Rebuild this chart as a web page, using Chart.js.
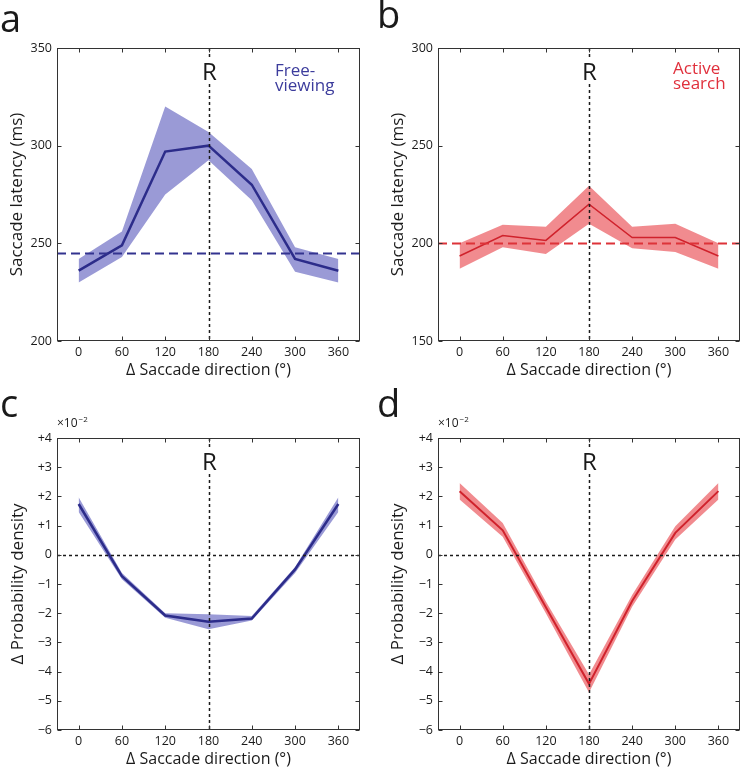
<!DOCTYPE html>
<html><head><meta charset="utf-8">
<script src="https://cdn.jsdelivr.net/npm/chart.js@4/dist/chart.umd.min.js"></script>
<style>
html,body{margin:0;padding:0;background:#fff;}
#wrap{position:relative;width:742px;height:767px;overflow:hidden;background:#fff;}
canvas{position:absolute;}
</style></head><body>
<div id="wrap">
<canvas id="ca" width="371" height="383" style="left:0;top:0"></canvas>
<canvas id="cb" width="371" height="383" style="left:371px;top:0"></canvas>
<canvas id="cc" width="371" height="384" style="left:0;top:383px"></canvas>
<canvas id="cd" width="371" height="384" style="left:371px;top:383px"></canvas>
</div>
<script>
// ---- data ----
const directions = [0, 60, 120, 180, 240, 300, 360];
const xTickValues = [0, 60, 120, 180, 240, 300, 360];
const referenceDirection = 180;

const freeLatencyMean  = [236, 249, 297, 300, 280, 242, 236];
const freeLatencyUpper = [242, 256, 320, 307, 288, 248, 242];
const freeLatencyLower = [230, 243, 275, 292.5, 272, 235.5, 230];
const freeLatencyBaseline = 245;
const freeLatencyTicks = [200, 250, 300, 350];

const activeLatencyMean  = [193.5, 204, 201.5, 220, 203, 203, 193.5];
const activeLatencyUpper = [200, 209.5, 208.5, 229.5, 208.5, 210, 200];
const activeLatencyLower = [187, 198, 194.5, 210, 197.5, 195.5, 187];
const activeLatencyBaseline = 200;
const activeLatencyTicks = [150, 200, 250, 300];

const freeDensityMean  = [1.74, -0.73, -2.08, -2.29, -2.18, -0.50, 1.74];
const freeDensityUpper = [1.97, -0.62, -2.00, -2.04, -2.10, -0.42, 1.97];
const freeDensityLower = [1.47, -0.84, -2.16, -2.55, -2.25, -0.62, 1.47];

const activeDensityMean  = [2.18, 0.84, -1.80, -4.42, -1.58, 0.75, 2.18];
const activeDensityUpper = [2.46, 1.09, -1.60, -4.10, -1.38, 0.98, 2.46];
const activeDensityLower = [1.89, 0.62, -2.00, -4.72, -1.78, 0.52, 1.89];
const densityBaseline = 0;
const densityTicks = [-6, -5, -4, -3, -2, -1, 0, 1, 2, 3, 4];

const xTitle = 'Δ Saccade direction (°)';
const latencyTitle = 'Saccade latency (ms)';
const densityTitle = 'Δ Probability density';

const FONT = '"Open Sans", "Noto Sans", sans-serif';
const INK = '#1a1a1a';

function decor(p) {
  return {
    id: 'decor',
    afterDatasetsDraw(chart) {
      const {ctx, chartArea: a, scales: {x, y}} = chart;
      ctx.save();
      ctx.beginPath(); ctx.rect(a.left, a.top, a.right - a.left, a.bottom - a.top); ctx.clip();
      const yb = Math.round(y.getPixelForValue(p.baseline)) + 0.5;
      ctx.strokeStyle = p.baseColor; ctx.lineWidth = p.baseWidth; ctx.setLineDash(p.baseDash);
      ctx.beginPath(); ctx.moveTo(a.left, yb); ctx.lineTo(a.right, yb); ctx.stroke();
      const xr = Math.round(x.getPixelForValue(referenceDirection)) + 0.5;
      ctx.strokeStyle = INK; ctx.lineWidth = 1.5; ctx.setLineDash([3, 3]);
      ctx.beginPath(); ctx.moveTo(xr, a.top); ctx.lineTo(xr, a.bottom); ctx.stroke();
      ctx.setLineDash([]);
      ctx.font = '24px ' + FONT;
      ctx.textAlign = 'center'; ctx.textBaseline = 'middle';
      const ry = a.top + 24;
      ctx.fillStyle = '#fff';
      ctx.fillRect(xr - 9, ry - 12, 18, 24);
      ctx.fillStyle = INK;
      ctx.fillText('R', xr, ry + 1);
      ctx.restore();
    },
    afterDraw(chart) {
      const {ctx, chartArea: a, scales: {x, y}} = chart;
      ctx.save();
      ctx.strokeStyle = '#333'; ctx.lineWidth = 1;
      const L = Math.round(a.left) + 0.5, R = Math.round(a.right) - 0.5;
      const T = Math.round(a.top) + 0.5, B = Math.round(a.bottom) - 0.5;
      ctx.strokeRect(L, T, R - L, B - T);
      ctx.beginPath();
      const tl = 4;
      xTickValues.forEach(v => {
        const px = Math.round(x.getPixelForValue(v)) + 0.5;
        ctx.moveTo(px, B); ctx.lineTo(px, B - tl);
        ctx.moveTo(px, T); ctx.lineTo(px, T + tl);
      });
      p.yTicks.forEach(v => {
        const py = Math.round(y.getPixelForValue(v)) + 0.5;
        ctx.moveTo(L, py); ctx.lineTo(L + tl, py);
        ctx.moveTo(R, py); ctx.lineTo(R - tl, py);
      });
      ctx.stroke();
      ctx.fillStyle = INK;
      ctx.font = '16px ' + FONT;
      ctx.textAlign = 'center'; ctx.textBaseline = 'middle';
      ctx.fillText(xTitle, (a.left + a.right) / 2, a.bottom + 29);
      ctx.font = '17px ' + FONT;
      ctx.save();
      ctx.translate(p.yTitleX, (a.top + a.bottom) / 2);
      ctx.rotate(-Math.PI / 2);
      ctx.fillText(p.yTitle, 0, 0);
      ctx.restore();
      ctx.font = '38px ' + FONT;
      ctx.textAlign = 'left'; ctx.textBaseline = 'alphabetic';
      ctx.fillText(p.letter, p.letterX, p.letterY);
      if (p.legend) {
        ctx.font = '17px ' + FONT;
        ctx.fillStyle = p.legendColor;
        p.legend.forEach((t, i) => ctx.fillText(t, p.legendX, p.legendY + i * 15));
      }
      if (p.exponent) {
        ctx.fillStyle = INK;
        ctx.font = '12px ' + FONT;
        ctx.textBaseline = 'middle';
        const ex = a.left, ey = a.top - 14;
        ctx.fillText('×10', ex, ey);
        const w = ctx.measureText('×10').width;
        ctx.font = '8px ' + FONT;
        ctx.fillText('−2', ex + w + 1, ey - 4);
      }
      ctx.restore();
    }
  };
}

function makeChart(id, box, p) {
  const canvas = document.getElementById(id);
  const W = canvas.width, H = canvas.height;
  return new Chart(canvas, {
    type: 'line',
    data: {
      datasets: [
        {data: directions.map((d, i) => ({x: d, y: p.mean[i]})), borderColor: p.line, borderWidth: p.lw,
         pointRadius: 0, fill: false, tension: 0},
        {data: directions.map((d, i) => ({x: d, y: p.upper[i]})), borderWidth: 0, borderColor: 'rgba(0,0,0,0)',
         backgroundColor: p.band, pointRadius: 0, fill: '+1', tension: 0},
        {data: directions.map((d, i) => ({x: d, y: p.lower[i]})), borderWidth: 0, borderColor: 'rgba(0,0,0,0)',
         pointRadius: 0, fill: false, tension: 0}
      ]
    },
    options: {
      responsive: false, animation: false, devicePixelRatio: 1,
      layout: {padding: {left: 0, top: box.T, right: W - box.R, bottom: 0}},
      plugins: {legend: {display: false}, tooltip: {enabled: false}},
      scales: {
        x: {
          type: 'linear', min: -30, max: 390,
          afterBuildTicks: s => { s.ticks = xTickValues.map(v => ({value: v})); },
          afterFit: s => { s.height = H - box.B; },
          grid: {display: false, drawTicks: false}, border: {display: false},
          ticks: {padding: 4, font: {family: FONT, size: 12.5}, color: INK, maxRotation: 0, autoSkip: false}
        },
        y: {
          type: 'linear', min: p.ymin, max: p.ymax,
          afterBuildTicks: s => { s.ticks = p.yTicks.map(v => ({value: v})); },
          afterFit: s => { s.width = box.L; },
          grid: {display: false, drawTicks: false}, border: {display: false},
          ticks: {padding: 5, font: {family: FONT, size: 12.5}, color: INK, autoSkip: false,
                  callback: p.fmt || (v => String(v))}
        }
      }
    },
    plugins: [decor(p)]
  });
}

const densityFmt = v => v > 0 ? '+' + v : (v < 0 ? '−' + Math.abs(v) : '0');
const blueBand = 'rgba(120,120,200,0.75)', blueLine = '#2c2c8a';
const redBand = 'rgba(238,110,115,0.8)', redLine = '#d0222c';

makeChart('ca', {L: 57, T: 48, R: 360, B: 341}, {
  mean: freeLatencyMean, upper: freeLatencyUpper, lower: freeLatencyLower,
  ymin: 200, ymax: 350, yTicks: freeLatencyTicks,
  line: blueLine, lw: 2.5, band: blueBand,
  baseline: freeLatencyBaseline, baseColor: '#33338f', baseWidth: 2, baseDash: [9, 5],
  yTitle: latencyTitle, yTitleX: 17, letter: 'a', letterX: 0, letterY: 32,
  legend: ['Free-', 'viewing'], legendColor: '#3c3c9c', legendX: 275, legendY: 76
});
makeChart('cb', {L: 67, T: 48, R: 369, B: 341}, {
  mean: activeLatencyMean, upper: activeLatencyUpper, lower: activeLatencyLower,
  ymin: 150, ymax: 300, yTicks: activeLatencyTicks,
  line: redLine, lw: 1.5, band: redBand,
  baseline: activeLatencyBaseline, baseColor: '#dd3339', baseWidth: 2, baseDash: [9, 5],
  yTitle: latencyTitle, yTitleX: 27, letter: 'b', letterX: 6, letterY: 28,
  legend: ['Active', 'search'], legendColor: '#e0303c', legendX: 302, legendY: 74
});
makeChart('cc', {L: 57, T: 55, R: 360, B: 347}, {
  mean: freeDensityMean, upper: freeDensityUpper, lower: freeDensityLower,
  ymin: -6, ymax: 4, yTicks: densityTicks, fmt: densityFmt,
  line: blueLine, lw: 2.5, band: blueBand,
  baseline: densityBaseline, baseColor: INK, baseWidth: 1.5, baseDash: [3, 3],
  yTitle: densityTitle, yTitleX: 18, letter: 'c', letterX: 0, letterY: 34, exponent: true
});
makeChart('cd', {L: 67, T: 55, R: 369, B: 347}, {
  mean: activeDensityMean, upper: activeDensityUpper, lower: activeDensityLower,
  ymin: -6, ymax: 4, yTicks: densityTicks, fmt: densityFmt,
  line: redLine, lw: 2, band: redBand,
  baseline: densityBaseline, baseColor: INK, baseWidth: 1.5, baseDash: [3, 3],
  yTitle: densityTitle, yTitleX: 27, letter: 'd', letterX: 6, letterY: 34, exponent: true
});
</script>
</body></html>
